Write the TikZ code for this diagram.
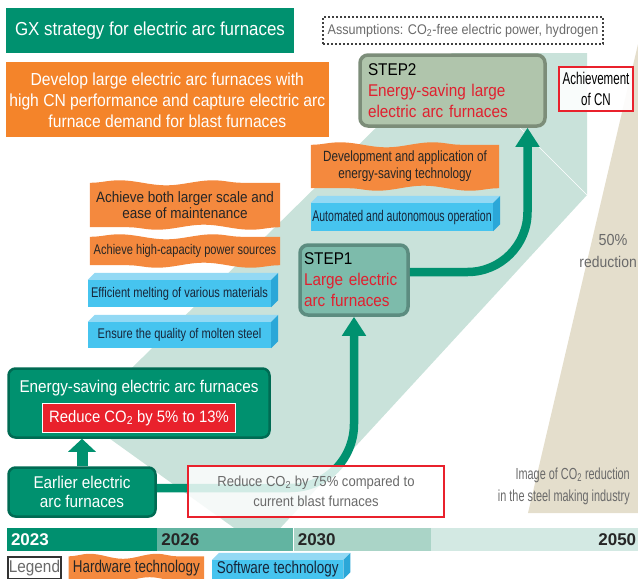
\documentclass[tikz,border=0pt]{standalone}
\usepackage{fontspec}
\setmainfont{Liberation Sans}[FakeStretch=0.9]
\newfontfamily\condfont{Liberation Sans}[FakeStretch=0.79]
\newfontfamily\narrowfont{Liberation Sans}[FakeStretch=0.68]
\newfontfamily\yearfont{Liberation Sans}
\usepackage{tikz}
\usetikzlibrary{arrows.meta, positioning, decorations.pathmorphing}

\definecolor{gxgreen}{HTML}{00916F}
\definecolor{gxdark}{HTML}{006B53}
\definecolor{gxorange}{HTML}{F4842A}
\definecolor{hwfill}{HTML}{F4893E}
\definecolor{swfront}{HTML}{46C4EF}
\definecolor{swtop}{HTML}{93D9F4}
\definecolor{swside}{HTML}{2BA7D8}
\definecolor{steponefill}{HTML}{7DBBAB}
\definecolor{steponeline}{HTML}{5C8C80}
\definecolor{steptwofill}{HTML}{B0C5AC}
\definecolor{steptwoline}{HTML}{7C8D79}
\definecolor{pathgreen}{HTML}{C9E2DA}
\definecolor{sand}{HTML}{E4DECC}
\definecolor{cnred}{HTML}{E9212C}
\definecolor{stepred}{HTML}{E0202F}
\definecolor{tlone}{HTML}{00906F}
\definecolor{tltwo}{HTML}{62B4A1}
\definecolor{tlthree}{HTML}{AAD4C7}
\definecolor{tlfour}{HTML}{D3E9E3}
\definecolor{txtgray}{HTML}{6A6A6A}
\definecolor{txtdark}{HTML}{262626}
\definecolor{swtext}{HTML}{17263A}

\newcommand{\fsz}[2]{\fontsize{#1}{#2}\selectfont}

\pgfdeclarelayer{back}
\pgfdeclarelayer{deco}
\pgfsetlayers{back,deco,main}

\begin{document}
\begin{tikzpicture}[
        x=1pt, y=-1pt,
        >=Stealth,
        titlebox/.style={fill=gxgreen, text=white, minimum width=288pt, minimum height=45pt, font=\fsz{18.8}{22}},
        greenbox/.style={fill=gxgreen, draw=gxdark, line width=2.5pt, rounded corners=7pt, text=white, align=center},
        hwnode/.style={text=txtdark, align=center, inner sep=0pt},
        swnode/.style={fill=swfront, text=swtext, inner sep=0pt, font=\condfont\fsz{14}{16}},
        stepbox/.style={line width=3.5pt, rounded corners=8pt, align=left, inner sep=0pt, font=\fsz{17}{21}},
        redframe/.style={draw=cnred, line width=1.6pt, fill=white, align=center},
        flow/.style={draw=gxgreen, line width=8.5pt, -{Triangle[width=23pt,length=19pt]}},
        tlseg/.style={minimum height=23pt, inner ysep=0pt, inner xsep=4pt, font=\yearfont\bfseries\fsz{17}{17}},
        graynote/.style={text=txtgray, inner sep=0pt}
    ]
        \useasboundingbox (0,0) rectangle (638,579);

        % Background shapes
        \begin{pgfonlayer}{back}
            \fill[sand] (528,513) -- (646,10) -- (646,513) -- cycle;
            \fill[pathgreen] (452,53) -- (587,53) -- (587,195) -- (262,548) -- (81,418) -- cycle;
            \draw[white, line width=0.7pt] (520,128) -- (587,195);
        \end{pgfonlayer}

        % Headings
        \node[titlebox] (gxtitle) at (150,30.5) {GX strategy for electric arc furnaces};
        \node[fill=gxorange, text=white, minimum width=311pt, minimum height=75pt, font=\fsz{17.4}{21}, align=center,
              below=9pt of gxtitle.south west, anchor=north west] (develop)
              {Develop large electric arc furnaces with\\high CN performance and capture electric arc\\furnace demand for blast furnaces};
        \node[draw=black!75, dashed, dash pattern=on 2.4pt off 1.6pt, line width=1.3pt, text=txtgray, minimum width=280pt,
              minimum height=27pt, font=\fsz{14}{16}, inner sep=1pt] (assume) at (463,30.5)
              {Assumptions: CO\textsubscript{2}-free electric power, hydrogen};

        % Steps
        \node[stepbox, fill=steptwofill, draw=steptwoline, minimum width=185pt, minimum height=71pt, text width=169pt] (step2) at (452.5,90.5)
              {STEP2\\\textcolor{stepred}{Energy-saving large}\\\textcolor{stepred}{electric arc furnaces}};
        \node[stepbox, fill=steponefill, draw=steponeline, minimum width=108pt, minimum height=70pt, text width=100pt] (step1) at (354,280)
              {STEP1\\\textcolor{stepred}{Large electric}\\\textcolor{stepred}{arc furnaces}};
        \node[redframe, line width=2pt, fill opacity=0.9, text opacity=1, minimum width=74pt, minimum height=44pt,
              font=\narrowfont\fsz{17}{21}, inner sep=1pt] (cn) at (596,89) {Achievement\\of CN};

        % Hardware technology
        \node[hwnode, minimum width=190pt, minimum height=44pt, font=\fsz{15}{16.5}] (bothscale) at (185,205)
              {Achieve both larger scale and\\ease of maintenance};
        \node[hwnode, minimum width=190pt, minimum height=28pt, font=\condfont\fsz{14}{16}] (capacity) at (185,251)
              {Achieve high-capacity power sources};
        \node[hwnode, minimum width=188pt, minimum height=43pt, font=\condfont\fsz{14.8}{17}] (energytech) at (405,166.5)
              {Development and application of\\energy-saving technology};

        % Software technology
        \node[swnode, minimum width=183pt, minimum height=27pt] (melting) at (179.5,293.5) {Efficient melting of various materials};
        \node[swnode, minimum width=183pt, minimum height=26pt] (quality) at (179.5,335) {Ensure the quality of molten steel};
        \node[swnode, minimum width=182pt, minimum height=28pt, font=\narrowfont\fsz{15.5}{17}] (automated) at (402,217)
              {Automated and autonomous operation};

        % Furnaces today
        \node[greenbox, minimum width=261pt, minimum height=69pt] (energy) at (139,403) {};
        \node[text=white, font=\fsz{17}{20}, inner sep=0pt] (energytitle) at (139,388) {Energy-saving electric arc furnaces};
        \node[fill=cnred, draw=white, line width=1pt, text=white, minimum width=193pt, minimum height=29pt,
              font=\fsz{16.5}{18}, below=7pt of energytitle] (cut513) {Reduce CO\textsubscript{2} by 5\% to 13\%};
        \node[greenbox, minimum width=147pt, minimum height=49pt, font=\fsz{17}{19.5}] (earlier) at (82,492)
              {Earlier electric\\arc furnaces};

        % Arrows
        \draw[gxgreen, line width=11pt, -{Triangle[width=27pt,length=13pt]}] (earlier.north) -- (earlier.north |- energy.south);
        \draw[flow, rounded corners=64pt] ([yshift=4pt]earlier.east) -| (step1.south);
        \draw[flow, rounded corners=60pt] ([yshift=8pt]step1.east) -| ([xshift=75pt]step2.south);

        \node[redframe, fill opacity=0.82, text opacity=1, text=txtgray, minimum width=256pt, minimum height=51pt,
              font=\fsz{14.5}{20}] (cut75) at (316,491.5)
              {Reduce CO\textsubscript{2} by 75\% compared to\\current blast furnaces};

        % Reduction notes
        \node[graynote, font=\fsz{16}{18}] (half) at (613,240) {50\%};
        \node[graynote, font=\fsz{15.5}{18}, anchor=east] (halfword) at (637,262) {reduction};
        \node[graynote, font=\narrowfont\fsz{16}{22}, align=right, anchor=east] (imgnote) at (630,486)
              {Image of CO\textsubscript{2} reduction\\in the steel making industry};

        % Timeline
        \node[tlseg, fill=tlone, text=white, text width=142pt, align=left] (t2023) at (82,539.5) {2023};
        \node[tlseg, fill=tltwo, text=txtdark, text width=128pt, align=left, right=0pt of t2023] (t2026) {2026};
        \node[tlseg, fill=tlthree, text=txtdark, text width=129pt, align=left, right=0pt of t2026] (t2030) {2030};
        \node[tlseg, fill=tlfour, text=txtdark, text width=201pt, align=right, right=0pt of t2030] (t2050) {2050};

        % Legend
        \node[draw=black!80, line width=1.3pt, fill=white, text=txtgray, minimum width=53pt, minimum height=22pt,
              font=\fsz{17}{20}, inner sep=0pt] (legend) at (34.5,568) {Legend};
        \node[hwnode, minimum width=135pt, minimum height=23pt, font=\condfont\fsz{17}{20}, right=7pt of legend] (hwlegend)
              {Hardware technology};
        \node[swnode, minimum width=131pt, minimum height=19pt, font=\condfont\fsz{17}{20}, right=8pt of hwlegend, yshift=-1.5pt] (swlegend)
              {Software technology};

        % Wavy hardware fills
        \begin{pgfonlayer}{deco}
            \foreach \n/\s in {bothscale/94, capacity/94, energytech/93, hwlegend/67}
                \fill[hwfill, decoration={snake, amplitude=2.5pt, segment length=\s pt}]
                    (\n.north west) decorate {-- (\n.north east)} -- (\n.south east) decorate {-- (\n.south west)} -- cycle;
        \end{pgfonlayer}

        % Software box faces
        \foreach \n in {melting, quality, automated, swlegend} {
            \fill[swtop] (\n.north west) -- ++(7pt,7pt) -- ([shift={(7pt,7pt)}]\n.north east) -- (\n.north east) -- cycle;
            \fill[swside] (\n.north east) -- ++(7pt,7pt) -- ([shift={(7pt,7pt)}]\n.south east) -- (\n.south east) -- cycle;
        }
    \end{tikzpicture}
\end{document}
